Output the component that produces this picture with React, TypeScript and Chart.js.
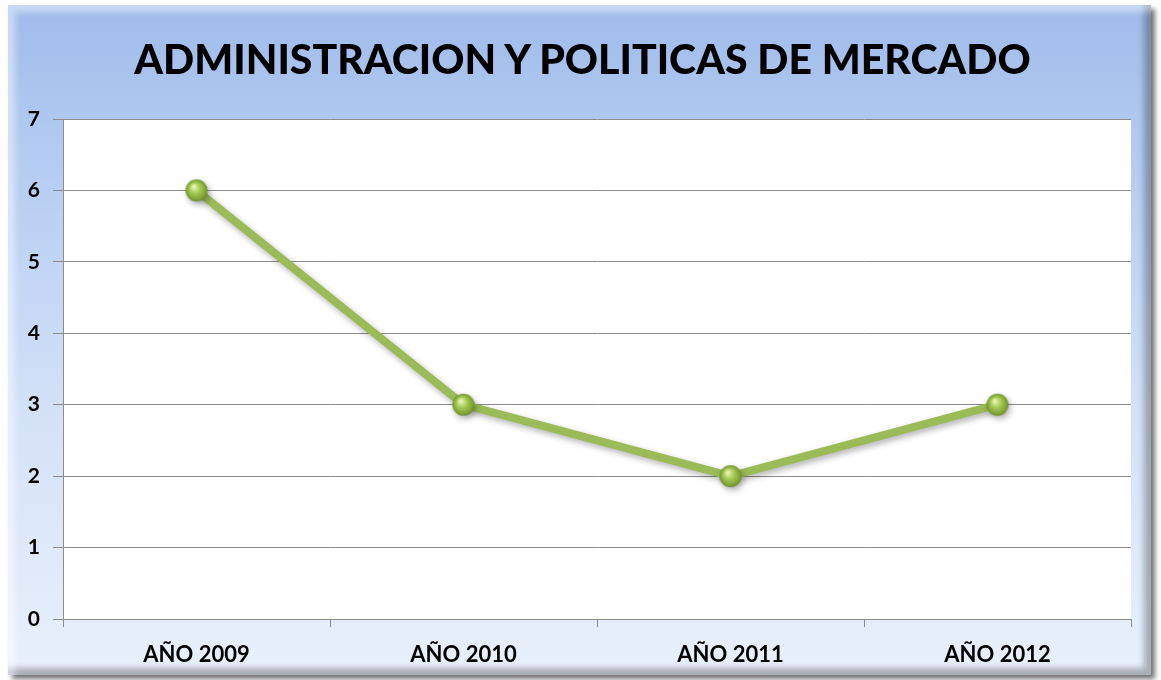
import React, { useEffect, useRef } from "react";
import { Chart, registerables } from "chart.js";

Chart.register(...registerables);

const TITLE = "ADMINISTRACION Y POLITICAS DE MERCADO";
const CATEGORIES = ["AÑO 2009", "AÑO 2010", "AÑO 2011", "AÑO 2012"];
const VALUES = [6, 3, 2, 3];
const Y_MIN = 0;
const Y_MAX = 7;

const FONT = "Lato, 'Open Sans', sans-serif";

function makeSphere(r: number): HTMLCanvasElement {
  const size = r * 2 + 2;
  const c = document.createElement("canvas");
  c.width = size;
  c.height = size;
  const g = c.getContext("2d")!;
  const cx = size / 2;
  const grad = g.createRadialGradient(cx - r * 0.25, cx - r * 0.35, r * 0.1, cx, cx, r);
  grad.addColorStop(0, "#e2f2b0");
  grad.addColorStop(0.4, "#a8cc55");
  grad.addColorStop(0.85, "#7fa336");
  grad.addColorStop(1, "#6a8c28");
  g.beginPath();
  g.arc(cx, cx, r, 0, Math.PI * 2);
  g.fillStyle = grad;
  g.fill();
  return c;
}

const plotBg = {
  id: "plotBg",
  beforeDraw(chart: any) {
    const { ctx, chartArea } = chart;
    ctx.save();
    ctx.fillStyle = "#ffffff";
    ctx.fillRect(chartArea.left, chartArea.top, chartArea.right - chartArea.left, chartArea.bottom - chartArea.top);
    ctx.restore();
  },
  beforeDatasetDraw(chart: any) {
    const ctx = chart.ctx;
    ctx.save();
    ctx.shadowColor = "rgba(0,0,0,0.3)";
    ctx.shadowBlur = 6;
    ctx.shadowOffsetX = 2;
    ctx.shadowOffsetY = 3;
  },
  afterDatasetDraw(chart: any) {
    chart.ctx.restore();
  },
};

export default function App() {
  const ref = useRef<HTMLCanvasElement>(null);

  useEffect(() => {
    const sphere = makeSphere(11);
    const chart = new Chart(ref.current!, {
      type: "line",
      data: {
        labels: CATEGORIES,
        datasets: [
          {
            data: VALUES,
            borderColor: "#9bbb59",
            borderWidth: 8,
            pointStyle: sphere as any,
            pointRadius: 11,
            tension: 0,
          },
        ],
      },
      options: {
        animation: false,
        responsive: false,
        layout: { padding: { left: 0, right: 30, top: 119, bottom: 0 } },
        plugins: {
          legend: { display: false },
          tooltip: { enabled: false },
          title: { display: false },
        },
        scales: {
          x: {
            offset: true,
            grid: {
              offset: true,
              drawOnChartArea: false,
              drawTicks: true,
              tickLength: 8,
              color: "#8c8c8c",
            },
            border: { display: true, color: "#8c8c8c", width: 1 },
            ticks: {
              color: "#000000",
              font: { family: FONT, size: 22, weight: "bold" },
              padding: 15,
              maxRotation: 0,
            },
            afterFit(scale: any) {
              scale.height = 61;
            },
          },
          y: {
            min: Y_MIN,
            max: Y_MAX,
            ticks: {
              stepSize: 1,
              color: "#000000",
              font: { family: FONT, size: 21, weight: "bold" },
              padding: 13,
            },
            grid: {
              color: "#8c8c8c",
              tickLength: 10,
              drawTicks: true,
            },
            border: { display: true, color: "#8c8c8c", width: 1 },
            afterFit(scale: any) {
              scale.width = 63;
            },
          },
        },
      },
      plugins: [plotBg],
    });
    return () => chart.destroy();
  }, []);

  return (
    <div style={{ position: "absolute", left: 0, top: 0, width: 1161, height: 680 }}>
      <div
        style={{
          position: "absolute",
          left: 8,
          top: 5,
          width: 1143,
          height: 670,
          background: "linear-gradient(to bottom, #9fbbea 0%, #b2caf1 20%, #d3e1f7 60%, #e9f0fc 100%)",
          boxShadow:
            "inset 7px 7px 6px rgba(255,255,255,0.45), inset -7px -7px 6px rgba(0,0,0,0.28), 4px 4px 5px rgba(0,0,0,0.55)",
        }}
      />
      <canvas
        ref={ref}
        width={1161}
        height={680}
        style={{ position: "absolute", left: 0, top: 0, width: 1161, height: 680 }}
      />
      <div
        style={{
          position: "absolute",
          left: 11,
          top: 37,
          width: 1143,
          textAlign: "center",
          fontFamily: FONT,
          fontWeight: 900,
          fontSize: 41,
          lineHeight: "44px",
          color: "#000000",
          whiteSpace: "nowrap",
        }}
      >
        {TITLE}
      </div>
    </div>
  );
}
